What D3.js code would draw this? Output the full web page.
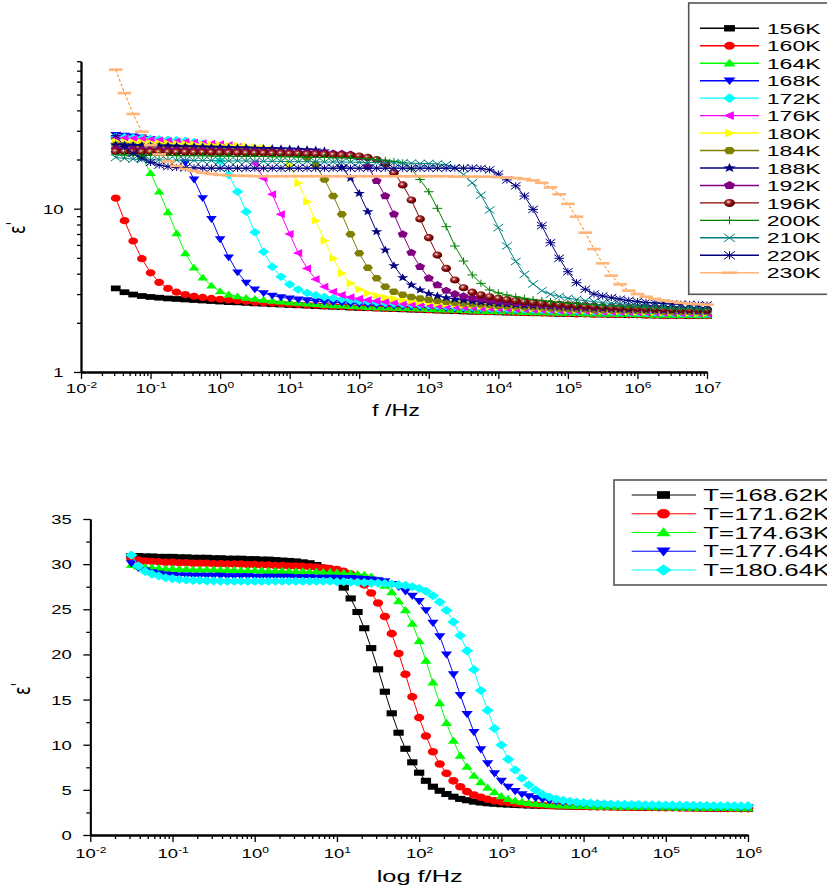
<!DOCTYPE html>
<html>
<head>
<meta charset="utf-8">
<script src="https://cdn.jsdelivr.net/npm/d3@7"></script>
<style>
  body { margin: 0; background: #fff; }
  svg { display: block; font-family: "Liberation Sans", Arial, sans-serif; }
</style>
</head>
<body>
<div id="chart"></div>
<script>
// ---------- top chart: eps' vs f, 8 points per decade ----------
const topFreq = [
  0.0316, 0.0422, 0.0562, 0.075, 0.1, 0.133, 0.178, 0.237,
  0.316, 0.422, 0.562, 0.75, 1, 1.33, 1.78, 2.37,
  3.16, 4.22, 5.62, 7.5, 10, 13.3, 17.8, 23.7,
  31.6, 42.2, 56.2, 75, 100, 133, 178, 237,
  316, 422, 562, 750, 1e3, 1.33e3, 1.78e3, 2.37e3,
  3.16e3, 4.22e3, 5.62e3, 7.5e3, 1e4, 1.33e4, 1.78e4, 2.37e4,
  3.16e4, 4.22e4, 5.62e4, 7.5e4, 1e5, 1.33e5, 1.78e5, 2.37e5,
  3.16e5, 4.22e5, 5.62e5, 7.5e5, 1e6, 1.33e6, 1.78e6, 2.37e6,
  3.16e6, 4.22e6, 5.62e6, 7.5e6, 1e7
];

const eps156K = [
  3.25, 3.08, 2.98, 2.92, 2.88, 2.85, 2.82, 2.80,
  2.78, 2.76, 2.74, 2.72, 2.70, 2.68, 2.67, 2.65,
  2.63, 2.62, 2.60, 2.59, 2.57, 2.56, 2.55, 2.53,
  2.52, 2.51, 2.50, 2.48, 2.47, 2.46, 2.45, 2.44,
  2.43, 2.42, 2.41, 2.40, 2.39, 2.38, 2.37, 2.36,
  2.35, 2.34, 2.34, 2.33, 2.32, 2.31, 2.31, 2.30,
  2.29, 2.29, 2.28, 2.27, 2.27, 2.26, 2.26, 2.25,
  2.25, 2.24, 2.24, 2.23, 2.23, 2.22, 2.22, 2.21,
  2.21, 2.21, 2.20, 2.20, 2.20
];
const eps160K = [
  11.6, 8.45, 6.34, 4.94, 4.05, 3.54, 3.25, 3.08,
  2.98, 2.91, 2.86, 2.82, 2.79, 2.76, 2.73, 2.71,
  2.68, 2.66, 2.64, 2.62, 2.60, 2.59, 2.57, 2.56,
  2.54, 2.53, 2.52, 2.50, 2.49, 2.48, 2.47, 2.46,
  2.45, 2.44, 2.43, 2.42, 2.41, 2.40, 2.39, 2.38,
  2.37, 2.36, 2.35, 2.34, 2.34, 2.33, 2.32, 2.31,
  2.31, 2.30, 2.29, 2.29, 2.28, 2.27, 2.27, 2.26,
  2.26, 2.25, 2.25, 2.24, 2.24, 2.23, 2.23, 2.22,
  2.22, 2.22, 2.21, 2.21, 2.21
];
const eps164K = [
  26.0, 25.3, 24.0, 21.0, 16.5, 12.7, 9.5, 7.07,
  5.33, 4.35, 3.78, 3.38, 3.12, 2.98, 2.90, 2.84,
  2.80, 2.76, 2.73, 2.70, 2.67, 2.65, 2.62, 2.60,
  2.58, 2.56, 2.55, 2.53, 2.52, 2.50, 2.49, 2.48,
  2.47, 2.46, 2.45, 2.44, 2.43, 2.42, 2.41, 2.40,
  2.39, 2.38, 2.37, 2.36, 2.35, 2.35, 2.34, 2.33,
  2.32, 2.32, 2.31, 2.30, 2.30, 2.29, 2.28, 2.28,
  2.27, 2.27, 2.26, 2.26, 2.25, 2.25, 2.24, 2.24,
  2.23, 2.23, 2.23, 2.22, 2.22
];
const eps168K = [
  28.3, 28.0, 27.7, 27.3, 26.8, 26.0, 24.7, 22.5,
  19.2, 15.1, 11.6, 8.65, 6.5, 5.04, 4.08, 3.52,
  3.21, 3.04, 2.94, 2.87, 2.82, 2.78, 2.75, 2.72,
  2.69, 2.67, 2.65, 2.63, 2.61, 2.59, 2.57, 2.56,
  2.54, 2.53, 2.51, 2.50, 2.49, 2.48, 2.46, 2.45,
  2.44, 2.43, 2.42, 2.41, 2.40, 2.39, 2.39, 2.38,
  2.37, 2.36, 2.35, 2.35, 2.34, 2.33, 2.33, 2.32,
  2.31, 2.31, 2.30, 2.30, 2.29, 2.29, 2.28, 2.28,
  2.27, 2.27, 2.26, 2.26, 2.25
];
const eps172K = [
  27.6, 27.4, 27.2, 27.0, 26.8, 26.6, 26.4, 26.2,
  26.0, 25.6, 24.9, 23.0, 19.6, 16.1, 12.7, 9.58,
  7.17, 5.45, 4.41, 3.83, 3.44, 3.20, 3.05, 2.95,
  2.88, 2.83, 2.79, 2.75, 2.72, 2.70, 2.67, 2.65,
  2.63, 2.61, 2.59, 2.57, 2.56, 2.54, 2.53, 2.51,
  2.50, 2.49, 2.48, 2.46, 2.45, 2.44, 2.43, 2.42,
  2.41, 2.40, 2.39, 2.38, 2.38, 2.37, 2.36, 2.35,
  2.35, 2.34, 2.33, 2.33, 2.32, 2.31, 2.31, 2.30,
  2.30, 2.29, 2.29, 2.28, 2.28
];
const eps176K = [
  27.2, 27.0, 26.8, 26.6, 26.4, 26.2, 26.0, 25.8,
  25.6, 25.4, 25.2, 25.0, 24.8, 24.5, 23.9, 22.3,
  19.0, 15.35, 12.25, 9.24, 7.0, 5.35, 4.31, 3.70,
  3.33, 3.10, 2.96, 2.87, 2.81, 2.76, 2.72, 2.69,
  2.66, 2.63, 2.61, 2.59, 2.57, 2.55, 2.53, 2.52,
  2.50, 2.49, 2.47, 2.46, 2.45, 2.44, 2.43, 2.42,
  2.41, 2.40, 2.39, 2.38, 2.37, 2.37, 2.36, 2.35,
  2.34, 2.34, 2.33, 2.32, 2.32, 2.31, 2.31, 2.30,
  2.30, 2.29, 2.29, 2.28, 2.28
];
const eps180K = [
  25.8, 25.6, 25.5, 25.4, 25.3, 25.2, 25.1, 25.0,
  24.9, 24.8, 24.7, 24.6, 24.5, 24.4, 24.3, 24.1,
  23.9, 23.6, 23.1, 21.8, 18.5, 14.3, 11.04, 8.45,
  6.37, 4.97, 4.02, 3.49, 3.21, 3.04, 2.94, 2.86,
  2.81, 2.76, 2.72, 2.69, 2.66, 2.63, 2.61, 2.59,
  2.57, 2.55, 2.53, 2.52, 2.50, 2.49, 2.47, 2.46,
  2.45, 2.44, 2.43, 2.42, 2.41, 2.40, 2.39, 2.38,
  2.37, 2.37, 2.36, 2.35, 2.34, 2.34, 2.33, 2.32,
  2.32, 2.31, 2.31, 2.30, 2.30
];
const eps184K = [
  24.5, 24.4, 24.3, 24.2, 24.1, 24.0, 23.9, 23.8,
  23.7, 23.6, 23.5, 23.4, 23.3, 23.2, 23.1, 23.0,
  22.9, 22.8, 22.6, 22.4, 22.1, 21.6, 20.6, 18.5,
  15.1, 11.96, 9.24, 6.97, 5.33, 4.35, 3.75, 3.33,
  3.10, 2.97, 2.88, 2.82, 2.77, 2.73, 2.69, 2.66,
  2.63, 2.61, 2.59, 2.57, 2.55, 2.53, 2.52, 2.50,
  2.49, 2.48, 2.46, 2.45, 2.44, 2.43, 2.42, 2.41,
  2.40, 2.40, 2.39, 2.38, 2.37, 2.37, 2.36, 2.35,
  2.35, 2.34, 2.34, 2.33, 2.33
];
const eps188K = [
  24.6, 24.5, 24.4, 24.4, 24.3, 24.2, 24.2, 24.1,
  24.0, 24.0, 23.9, 23.8, 23.8, 23.7, 23.6, 23.6,
  23.5, 23.4, 23.4, 23.3, 23.2, 23.1, 23.0, 22.9,
  22.6, 21.6, 17.9, 15.35, 12.4, 9.58, 7.23, 5.58,
  4.48, 3.78, 3.41, 3.18, 3.02, 2.92, 2.85, 2.79,
  2.75, 2.71, 2.68, 2.65, 2.62, 2.60, 2.58, 2.56,
  2.54, 2.53, 2.51, 2.50, 2.49, 2.47, 2.46, 2.45,
  2.44, 2.43, 2.42, 2.41, 2.41, 2.40, 2.39, 2.38,
  2.38, 2.37, 2.37, 2.36, 2.36
];
const eps192K = [
  23.2, 23.1, 23.1, 23.0, 23.0, 22.9, 22.9, 22.8,
  22.8, 22.7, 22.7, 22.6, 22.6, 22.5, 22.5, 22.4,
  22.4, 22.3, 22.3, 22.2, 22.2, 22.1, 22.1, 22.0,
  21.9, 21.8, 21.7, 21.5, 20.8, 18.1, 14.8, 11.96,
  9.24, 6.97, 5.38, 4.41, 3.75, 3.41, 3.15, 3.00,
  2.91, 2.84, 2.79, 2.75, 2.71, 2.68, 2.65, 2.63,
  2.60, 2.58, 2.56, 2.55, 2.53, 2.52, 2.50, 2.49,
  2.48, 2.47, 2.46, 2.45, 2.44, 2.43, 2.42, 2.41,
  2.41, 2.40, 2.40, 2.39, 2.39
];
const eps196K = [
  22.4, 22.4, 22.3, 22.3, 22.3, 22.2, 22.2, 22.2,
  22.2, 22.1, 22.1, 22.1, 22.0, 22.0, 22.0, 21.9,
  21.9, 21.9, 21.8, 21.8, 21.7, 21.7, 21.6, 21.6,
  21.5, 21.4, 21.3, 21.2, 21.0, 20.6, 20.0, 19.0,
  16.6, 13.97, 11.3, 8.65, 6.65, 5.2, 4.31, 3.66,
  3.28, 3.08, 2.97, 2.89, 2.83, 2.78, 2.74, 2.70,
  2.67, 2.64, 2.62, 2.60, 2.58, 2.56, 2.54, 2.53,
  2.51, 2.50, 2.49, 2.48, 2.47, 2.46, 2.45, 2.44,
  2.43, 2.43, 2.42, 2.42, 2.41
];
const eps200K = [
  21.4, 21.3, 21.3, 21.3, 21.2, 21.2, 21.2, 21.1,
  21.1, 21.1, 21.1, 21.0, 21.0, 21.0, 20.9, 20.9,
  20.9, 20.9, 20.8, 20.8, 20.8, 20.7, 20.7, 20.6,
  20.6, 20.5, 20.5, 20.4, 20.3, 20.2, 20.0, 19.8,
  19.5, 19.1, 17.5, 15.1, 12.7, 10.05, 7.76, 5.91,
  4.78, 3.93, 3.49, 3.18, 3.05, 2.96, 2.89, 2.83,
  2.78, 2.74, 2.70, 2.67, 2.64, 2.62, 2.60, 2.58,
  2.56, 2.54, 2.53, 2.51, 2.50, 2.49, 2.48, 2.47,
  2.46, 2.45, 2.45, 2.44, 2.44
];
const eps210K = [
  20.6, 20.3, 20.1, 20.0, 19.9, 19.9, 19.8, 19.8,
  19.8, 19.7, 19.7, 19.7, 19.6, 19.6, 19.6, 19.6,
  19.5, 19.5, 19.5, 19.5, 19.4, 19.4, 19.4, 19.4,
  19.3, 19.3, 19.3, 19.3, 19.2, 19.2, 19.2, 19.1,
  19.1, 19.0, 19.0, 18.9, 18.9, 18.8, 18.6, 17.8,
  16.2, 14.4, 12.1, 9.82, 7.65, 5.91, 4.75, 3.96,
  3.46, 3.15, 2.99, 2.90, 2.83, 2.78, 2.73, 2.70,
  2.66, 2.63, 2.61, 2.59, 2.57, 2.55, 2.54, 2.52,
  2.51, 2.50, 2.49, 2.48, 2.48
];
const eps220K = [
  28.0, 24.0, 21.8, 20.4, 19.2, 18.5, 18.1, 17.9,
  17.8, 17.8, 17.7, 17.7, 17.7, 17.7, 17.7, 17.7,
  17.7, 17.7, 17.7, 17.7, 17.7, 17.7, 17.7, 17.7,
  17.7, 17.7, 17.7, 17.7, 17.7, 17.7, 17.7, 17.7,
  17.7, 17.7, 17.7, 17.7, 17.7, 17.7, 17.7, 17.7,
  17.7, 17.7, 17.6, 17.3, 16.3, 15.0, 13.8, 11.96,
  9.9, 7.87, 6.19, 4.97, 4.11, 3.52, 3.21, 3.00,
  2.92, 2.85, 2.79, 2.74, 2.70, 2.67, 2.65, 2.63,
  2.61, 2.60, 2.59, 2.58, 2.57
];
const eps230K = [
  71.0, 51.0, 38.0, 29.6, 24.5, 21.5, 19.5, 18.3,
  17.5, 17.0, 16.6, 16.3, 16.1, 16.0, 15.9, 15.9,
  15.8, 15.8, 15.8, 15.8, 15.8, 15.8, 15.8, 15.8,
  15.8, 15.8, 15.8, 15.8, 15.8, 15.8, 15.8, 15.8,
  15.8, 15.8, 15.8, 15.8, 15.8, 15.8, 15.8, 15.7,
  15.7, 15.7, 15.7, 15.7, 15.6, 15.5, 15.4, 15.2,
  14.9, 14.4, 13.5, 12.25, 10.7, 8.93, 7.13, 5.66,
  4.63, 3.89, 3.44, 3.15, 3.00, 2.89, 2.80, 2.74,
  2.69, 2.65, 2.62, 2.60, 2.58
];

const topLabels = ["156K", "160K", "164K", "168K", "172K", "176K", "180K", "184K",
                   "188K", "192K", "196K", "200K", "210K", "220K", "230K"];
const topValues = [eps156K, eps160K, eps164K, eps168K, eps172K, eps176K, eps180K, eps184K,
                   eps188K, eps192K, eps196K, eps200K, eps210K, eps220K, eps230K];
const topColors = ["#000000", "#ff0000", "#00ff00", "#0000ff", "#00ffff", "#ff00ff", "#ffff00", "#808000",
                   "#000080", "#800080", "#800000", "#008000", "#008080", "#000080", "#ff8000"];
const topShapes = ["square", "circle", "up", "down", "diamond", "left", "right", "hexagon",
                   "star", "pentagon", "sphere", "plus", "cross", "asterisk", "dash"];

// ---------- bottom chart: eps' vs log f, 12 points per decade ----------
const botFreq = [
  0.0316, 0.0383, 0.0464, 0.0562, 0.0681, 0.0825,
  0.1, 0.121, 0.147, 0.178, 0.215, 0.261, 0.316, 0.383, 0.464, 0.562, 0.681, 0.825,
  1, 1.21, 1.47, 1.78, 2.15, 2.61, 3.16, 3.83, 4.64, 5.62, 6.81, 8.25,
  10, 12.1, 14.7, 17.8, 21.5, 26.1, 31.6, 38.3, 46.4, 56.2, 68.1, 82.5,
  100, 121, 147, 178, 215, 261, 316, 383, 464, 562, 681, 825,
  1e3, 1.21e3, 1.47e3, 1.78e3, 2.15e3, 2.61e3, 3.16e3, 3.83e3, 4.64e3, 5.62e3, 6.81e3, 8.25e3,
  1e4, 1.21e4, 1.47e4, 1.78e4, 2.15e4, 2.61e4, 3.16e4, 3.83e4, 4.64e4, 5.62e4, 6.81e4, 8.25e4,
  1e5, 1.21e5, 1.47e5, 1.78e5, 2.15e5, 2.61e5, 3.16e5, 3.83e5, 4.64e5, 5.62e5, 6.81e5, 8.25e5,
  1e6
];

const epsT168 = [
  30.9, 30.9, 30.85, 30.85, 30.8, 30.8, 30.8, 30.75, 30.75, 30.7, 30.7, 30.7,
  30.65, 30.65, 30.6, 30.6, 30.6, 30.55, 30.55, 30.5, 30.5, 30.45, 30.4, 30.35,
  30.3, 30.2, 30.1, 29.9, 29.6, 29.2, 28.5, 27.4, 26.2, 24.7, 22.9, 20.7,
  18.35, 15.87, 13.48, 11.33, 9.55, 8.05, 6.9, 6.0, 5.35, 4.9, 4.54, 4.24,
  4.0, 3.85, 3.7, 3.6, 3.52, 3.46, 3.41, 3.37, 3.33, 3.3, 3.27, 3.25,
  3.23, 3.21, 3.19, 3.17, 3.16, 3.15, 3.13, 3.12, 3.11, 3.1, 3.09, 3.08,
  3.07, 3.06, 3.05, 3.04, 3.03, 3.02, 3.01, 3.0, 2.99, 2.98, 2.97, 2.96,
  2.95, 2.94, 2.93, 2.92, 2.91, 2.9, 2.9
];
const epsT171 = [
  30.6, 30.45, 30.35, 30.3, 30.25, 30.2, 30.2, 30.15, 30.15, 30.1, 30.1, 30.1,
  30.05, 30.05, 30.0, 30.0, 30.0, 29.95, 29.95, 29.9, 29.9, 29.85, 29.85, 29.8,
  29.8, 29.75, 29.7, 29.65, 29.6, 29.5, 29.4, 29.2, 28.9, 28.4, 27.7, 26.8,
  25.7, 24.2, 22.3, 20.1, 17.8, 15.3, 13.0, 10.96, 9.22, 7.86, 6.83, 6.0,
  5.35, 4.8, 4.43, 4.18, 3.95, 3.8, 3.68, 3.58, 3.5, 3.43, 3.38, 3.33,
  3.29, 3.26, 3.23, 3.21, 3.19, 3.17, 3.15, 3.13, 3.12, 3.11, 3.1, 3.09,
  3.08, 3.07, 3.06, 3.05, 3.04, 3.03, 3.02, 3.01, 3.0, 2.99, 2.98, 2.97,
  2.96, 2.95, 2.95, 2.94, 2.93, 2.92, 2.92
];
const epsT174 = [
  29.9, 29.75, 29.65, 29.6, 29.55, 29.5, 29.5, 29.45, 29.45, 29.4, 29.4, 29.4,
  29.4, 29.35, 29.35, 29.35, 29.3, 29.3, 29.3, 29.3, 29.25, 29.25, 29.25, 29.2,
  29.2, 29.2, 29.15, 29.15, 29.1, 29.1, 29.05, 29.0, 28.95, 28.9, 28.8, 28.6,
  28.2, 27.6, 26.9, 25.9, 24.9, 23.4, 21.5, 19.3, 16.9, 14.6, 12.4, 10.44,
  8.78, 7.56, 6.57, 5.84, 5.24, 4.73, 4.3, 4.0, 3.8, 3.65, 3.54, 3.46,
  3.4, 3.35, 3.31, 3.28, 3.25, 3.23, 3.21, 3.19, 3.17, 3.16, 3.15, 3.14,
  3.13, 3.12, 3.11, 3.1, 3.09, 3.08, 3.07, 3.06, 3.05, 3.04, 3.03, 3.02,
  3.01, 3.0, 3.0, 2.99, 2.98, 2.98, 2.97
];
const epsT177 = [
  30.1, 29.6, 29.3, 29.1, 28.95, 28.85, 28.8, 28.75, 28.75, 28.7, 28.7, 28.7,
  28.7, 28.7, 28.65, 28.65, 28.65, 28.65, 28.6, 28.6, 28.6, 28.6, 28.6, 28.6,
  28.55, 28.55, 28.55, 28.5, 28.5, 28.5, 28.5, 28.45, 28.45, 28.4, 28.35, 28.3,
  28.2, 28.1, 27.8, 27.5, 27.0, 26.5, 25.9, 24.9, 23.5, 22.0, 20.0, 17.8,
  15.5, 13.4, 11.4, 9.49, 7.94, 6.83, 6.0, 5.35, 4.87, 4.52, 4.3, 4.1,
  3.95, 3.82, 3.72, 3.63, 3.56, 3.5, 3.45, 3.41, 3.37, 3.34, 3.31, 3.29,
  3.27, 3.25, 3.23, 3.21, 3.2, 3.18, 3.17, 3.16, 3.15, 3.14, 3.13, 3.12,
  3.11, 3.1, 3.09, 3.08, 3.08, 3.07, 3.06
];
const epsT180 = [
  31.0, 29.8, 29.2, 28.9, 28.7, 28.5, 28.4, 28.3, 28.25, 28.2, 28.2, 28.15,
  28.15, 28.1, 28.1, 28.1, 28.1, 28.1, 28.1, 28.1, 28.1, 28.1, 28.1, 28.1,
  28.1, 28.1, 28.1, 28.1, 28.1, 28.1, 28.05, 28.05, 28.0, 28.0, 27.95, 27.9,
  27.9, 27.85, 27.8, 27.7, 27.65, 27.5, 27.3, 27.0, 26.5, 25.8, 24.9, 23.6,
  22.1, 20.4, 18.3, 16.0, 13.8, 11.8, 9.97, 8.38, 7.2, 6.28, 5.54, 4.98,
  4.5, 4.2, 3.98, 3.83, 3.72, 3.64, 3.58, 3.53, 3.49, 3.46, 3.43, 3.41,
  3.39, 3.37, 3.36, 3.35, 3.34, 3.33, 3.32, 3.31, 3.3, 3.29, 3.28, 3.27,
  3.26, 3.25, 3.24, 3.24, 3.23, 3.22, 3.22
];

const botLabels = ["T=168.62K", "T=171.62K", "T=174.63K", "T=177.64K", "T=180.64K"];
const botValues = [epsT168, epsT171, epsT174, epsT177, epsT180];
const botColors = ["#000000", "#ff0000", "#00ff00", "#0000ff", "#00ffff"];
const botShapes = ["square", "circle", "up", "down", "diamond"];

// ---------- drawing ----------
const SX = 1.35;   // the picture is stretched sideways, glyphs and symbols too
const TXT = 1.42;

function markerPath(type, r) {
  const poly = pts => "M" + pts.map(p => `${(p[0] * SX).toFixed(2)},${p[1].toFixed(2)}`).join("L") + "Z";
  const ring = (n, a0, rr) => d3.range(n).map(i => {
    const a = a0 + i * 2 * Math.PI / n;
    return [rr * Math.cos(a), rr * Math.sin(a)];
  });
  const rx = r * SX;
  const plus = `M${-rx},0H${rx}M0,${-r}V${r}`;
  const cross = `M${-rx},${-r}L${rx},${r}M${-rx},${r}L${rx},${-r}`;
  switch (type) {
    case "square": return poly([[-r, -r * 0.8], [r, -r * 0.8], [r, r * 0.8], [-r, r * 0.8]]);
    case "circle":
    case "sphere": return `M${-rx},0A${rx},${r} 0 1,0 ${rx},0A${rx},${r} 0 1,0 ${-rx},0Z`;
    case "up": return poly([[0, -r * 1.1], [r * 1.1, r * 0.8], [-r * 1.1, r * 0.8]]);
    case "down": return poly([[0, r * 1.1], [r * 1.1, -r * 0.8], [-r * 1.1, -r * 0.8]]);
    case "left": return poly([[-r * 1.1, 0], [r * 0.8, -r * 1.1], [r * 0.8, r * 1.1]]);
    case "right": return poly([[r * 1.1, 0], [-r * 0.8, -r * 1.1], [-r * 0.8, r * 1.1]]);
    case "diamond": return poly([[0, -r * 1.2], [r * 1.2, 0], [0, r * 1.2], [-r * 1.2, 0]]);
    case "hexagon": return poly(ring(6, 0, r * 1.05));
    case "pentagon": return poly(ring(5, -Math.PI / 2, r * 1.1));
    case "star": return poly(d3.range(10).map(i => {
      const a = -Math.PI / 2 + i * Math.PI / 5, rr = i % 2 ? r * 0.5 : r * 1.25;
      return [rr * Math.cos(a), rr * Math.sin(a)];
    }));
    case "plus": return plus;
    case "cross": return cross;
    case "asterisk": return plus + cross;
    case "dash": return `M${-rx * 1.4},0H${rx * 1.4}`;
  }
}
const strokeShapes = new Set(["plus", "cross", "asterisk", "dash"]);

function styleMarker(sel, shape, color) {
  if (strokeShapes.has(shape)) {
    sel.attr("fill", "none")
      .attr("stroke", shape === "dash" ? "#ffb47a" : color)
      .attr("stroke-width", shape === "dash" ? 2.6 : 1);
  } else {
    sel.attr("fill", shape === "sphere" ? "url(#sphere)" : color).attr("stroke", "none");
  }
}

const svg = d3.select("#chart").append("svg")
  .attr("width", 827)
  .attr("height", 890);

const grad = svg.append("defs").append("radialGradient")
  .attr("id", "sphere").attr("cx", "40%").attr("cy", "38%").attr("r", "62%");
grad.append("stop").attr("offset", "0%").attr("stop-color", "#ffffff");
grad.append("stop").attr("offset", "28%").attr("stop-color", "#b34848");
grad.append("stop").attr("offset", "65%").attr("stop-color", "#800000");
grad.append("stop").attr("offset", "100%").attr("stop-color", "#4a0000");

function drawSeries(g, x, y, freq, values, color, shape, r) {
  const pts = freq.map((f, i) => ({f: f, v: values[i]}));
  g.append("path")
    .datum(pts)
    .attr("fill", "none")
    .attr("stroke", color)
    .attr("stroke-width", 1)
    .attr("stroke-dasharray", shape === "dash" ? "3,2" : null)
    .attr("d", d3.line().x(d => x(d.f)).y(d => y(d.v)));
  g.append("g")
    .selectAll("path")
    .data(pts)
    .join("path")
    .attr("transform", d => `translate(${x(d.f)},${y(d.v)})`)
    .attr("d", markerPath(shape, r))
    .call(styleMarker, shape, color);
}

function minorLog(e0, e1) {
  const out = [];
  for (let e = e0; e < e1; e++) for (let m = 2; m <= 9; m++) out.push(m * Math.pow(10, e));
  return out;
}

function styleAxis(g) {
  g.select(".domain").attr("stroke", "#000").attr("stroke-width", 1.8);
  g.selectAll(".tick line").attr("stroke", "#000").attr("stroke-width", 1.3);
}

// log x axis with 10^n labels
function drawLogX(svg, x, yPos, e0, e1, baseline) {
  const major = d3.range(e0, e1 + 1).map(e => Math.pow(10, e));
  svg.append("g")
    .attr("transform", `translate(0,${yPos})`)
    .call(d3.axisBottom(x).tickValues(minorLog(e0, e1)).tickSize(4).tickSizeOuter(0).tickFormat(""))
    .call(styleAxis);
  const ax = svg.append("g")
    .attr("transform", `translate(0,${yPos})`)
    .call(d3.axisBottom(x).tickValues(major).tickSize(7).tickSizeOuter(0))
    .call(styleAxis);
  ax.selectAll(".tick text").each(function(d) {
    const t = d3.select(this);
    const e = Math.round(Math.log10(d));
    t.text(null)
      .attr("y", 0).attr("dy", 0)
      .attr("fill", "#000")
      .attr("font-family", "'Liberation Sans', Arial, sans-serif")
      .attr("font-size", "13px")
      .attr("text-anchor", "middle")
      .attr("transform", `translate(0,${baseline}) scale(${TXT},1)`);
    t.append("tspan").text("10");
    t.append("tspan").attr("dy", -5).attr("font-size", "8.5px").text(String(e));
  });
}

// rotated eps' title, stretched like the rest of the picture
function drawYLabel(svg, bx, cy) {
  const t = svg.append("text")
    .attr("transform", `translate(${bx},${cy}) rotate(-90) scale(1,1.4)`)
    .attr("text-anchor", "middle")
    .attr("font-family", "'DejaVu Sans', sans-serif")
    .attr("font-size", "16px");
  t.append("tspan").text("ε");
  t.append("tspan").attr("dy", -4).attr("font-size", "12px").text("'");
}

// ---------- top chart ----------
const xTop = d3.scaleLog().domain([1e-2, 1e7]).range([81, 707]);
const yTop = d3.scaleLog().domain([1, 80]).range([372, 61.2]);

const topPlot = svg.append("g");
topValues.forEach((vals, i) => drawSeries(topPlot, xTop, yTop, topFreq, vals, topColors[i], topShapes[i], 3.6));

drawLogX(svg, xTop, 372, -2, 7, 21);
svg.append("g")
  .attr("transform", "translate(81,0)")
  .call(d3.axisLeft(yTop).tickValues([2, 3, 4, 5, 6, 7, 8, 9, 20, 30, 40, 50, 60, 70, 80])
    .tickSize(4).tickSizeOuter(0).tickFormat(""))
  .call(styleAxis);
svg.append("g")
  .attr("transform", "translate(81,0)")
  .call(d3.axisLeft(yTop).tickValues([1, 10]).tickSize(7).tickSizeOuter(0).tickFormat(d3.format("d")))
  .call(styleAxis)
  .selectAll(".tick text")
  .attr("x", 0).attr("dy", "0.35em")
  .attr("fill", "#000")
  .attr("font-family", "'Liberation Sans', Arial, sans-serif")
  .attr("font-size", "13px")
  .attr("transform", `translate(-17.5,0) scale(${TXT},1)`);

svg.append("text")
  .attr("x", 372).attr("y", 416)
  .attr("font-size", "16px")
  .attr("textLength", 48).attr("lengthAdjust", "spacingAndGlyphs")
  .text("f /Hz");
drawYLabel(svg, 25, 228);

// top legend
const legTop = svg.append("g");
legTop.append("rect")
  .attr("x", 688.7).attr("y", 3).attr("width", 160).attr("height", 291.3)
  .attr("fill", "#fff").attr("stroke", "#555").attr("stroke-width", 1.6);
topLabels.forEach((lab, i) => {
  const yy = 28.3 + 17.46 * i;
  legTop.append("line")
    .attr("x1", 700).attr("x2", 759).attr("y1", yy).attr("y2", yy)
    .attr("stroke", topShapes[i] === "dash" ? "#ffb47a" : topColors[i]).attr("stroke-width", 1.4);
  legTop.append("path")
    .attr("transform", `translate(729.5,${yy})`)
    .attr("d", markerPath(topShapes[i], 4))
    .call(styleMarker, topShapes[i], topColors[i]);
  legTop.append("text")
    .attr("x", 766.7).attr("y", yy + 5.6)
    .attr("font-size", "15.5px")
    .attr("textLength", 54).attr("lengthAdjust", "spacingAndGlyphs")
    .text(lab);
});

// ---------- bottom chart ----------
const xBot = d3.scaleLog().domain([1e-2, 1e6]).range([90.3, 748]);
const yBot = d3.scaleLinear().domain([0, 35]).range([835, 519]);

const botPlot = svg.append("g");
botValues.forEach((vals, i) => drawSeries(botPlot, xBot, yBot, botFreq, vals, botColors[i], botShapes[i], 3.8));

drawLogX(svg, xBot, 835, -2, 6, 23.3);
svg.append("g")
  .attr("transform", "translate(90.3,0)")
  .call(d3.axisLeft(yBot).tickValues(d3.range(2.5, 35, 5)).tickSize(4).tickSizeOuter(0).tickFormat(""))
  .call(styleAxis);
svg.append("g")
  .attr("transform", "translate(90.3,0)")
  .call(d3.axisLeft(yBot).tickValues(d3.range(0, 36, 5)).tickSize(7).tickSizeOuter(0))
  .call(styleAxis)
  .selectAll(".tick text")
  .attr("x", 0).attr("dy", "0.35em")
  .attr("fill", "#000")
  .attr("font-family", "'Liberation Sans', Arial, sans-serif")
  .attr("font-size", "13px")
  .attr("transform", `translate(-18.6,0) scale(${TXT},1)`);

svg.append("text")
  .attr("x", 376.7).attr("y", 882)
  .attr("font-size", "17px")
  .attr("textLength", 86).attr("lengthAdjust", "spacingAndGlyphs")
  .text("log f/Hz");
drawYLabel(svg, 30, 689);

// bottom legend
const legBot = svg.append("g");
legBot.append("rect")
  .attr("x", 614).attr("y", 480).attr("width", 240).attr("height", 105)
  .attr("fill", "#fff").attr("stroke", "#555").attr("stroke-width", 1.6);
botLabels.forEach((lab, i) => {
  const yy = 495 + 18.75 * i;
  legBot.append("line")
    .attr("x1", 631.7).attr("x2", 696).attr("y1", yy).attr("y2", yy)
    .attr("stroke", botColors[i]).attr("stroke-width", 1.2);
  legBot.append("path")
    .attr("transform", `translate(663.5,${yy})`)
    .attr("d", markerPath(botShapes[i], 4.8))
    .call(styleMarker, botShapes[i], botColors[i]);
  legBot.append("text")
    .attr("x", 703.3).attr("y", yy + 6)
    .attr("font-size", "17px")
    .attr("textLength", 127).attr("lengthAdjust", "spacingAndGlyphs")
    .text(lab);
});
</script>
</body>
</html>
